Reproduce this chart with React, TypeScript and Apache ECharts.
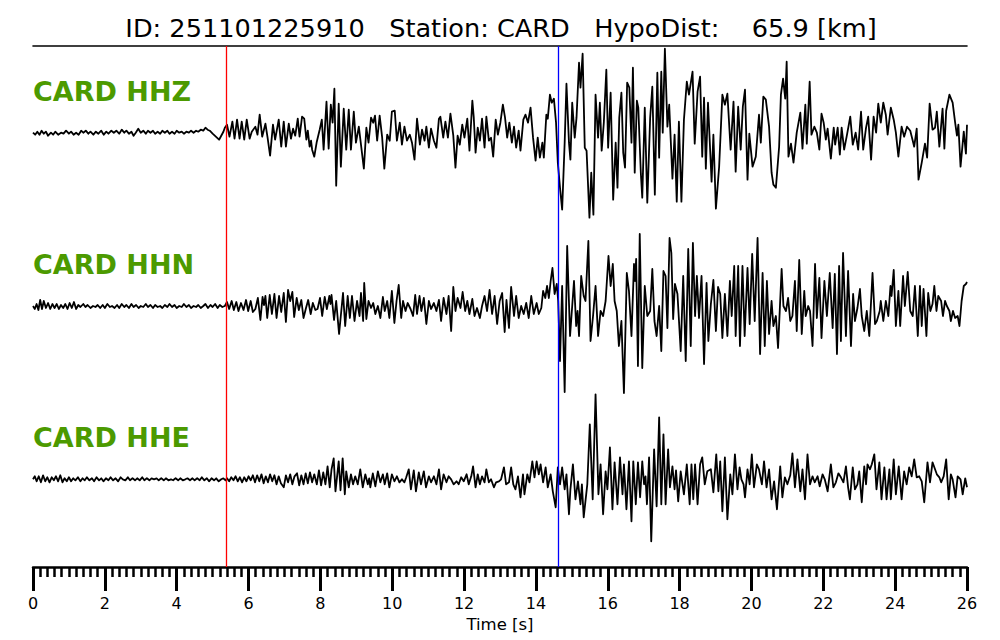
import React, { useEffect, useRef } from "react";
import * as echarts from "echarts";

// ---------- text ----------
const TITLE = "ID: 251101225910   Station: CARD   HypoDist:    65.9 [km]";
const CHANNELS = ["CARD HHZ", "CARD HHN", "CARD HHE"];
const X_NAME = "Time [s]";

// ---------- axis ----------
const X_MIN = 0;
const X_MAX = 26;
const X_INTERVAL = 2;

// ---------- phase picks (s) ----------
const P_PICK = 5.38;
const S_PICK = 14.63;

// ---------- waveforms: [time s, amplitude] (turning points) ----------
const HHZ: [number, number][] = [
  [0,0],[0.06,-2],[0.12,1],[0.18,-2],[0.24,2],[0.3,-1],[0.36,1],[0.42,-3],[0.5,0],[0.56,-2],[0.62,1],[0.7,-2],[0.78,0],[0.85,-1],[0.92,2],[1.0,-1],[1.06,1],[1.13,-2],[1.2,0],[1.27,-2],[1.34,2],[1.4,0],[1.47,2],[1.54,-1],[1.6,1],[1.68,-2],[1.75,1],[1.82,-1],[1.9,2],[1.97,-2],[2.04,1],[2.1,-1],[2.18,2],[2.25,0],[2.32,2],[2.4,-1],[2.47,3],[2.54,0],[2.6,2],[2.67,-1],[2.74,1],[2.8,-3],[2.86,0],[2.93,4],[3.0,0],[3.07,2],[3.14,-1],[3.2,2],[3.27,0],[3.34,2],[3.4,-1],[3.47,1],[3.54,-1],[3.6,2],[3.67,0],[3.74,2],[3.8,-1],[3.87,1],[3.94,-1],[4.0,2],[4.07,0],[4.14,1],[4.2,-1],[4.27,1],[4.34,0],[4.4,2],[4.47,0],[4.54,2],[4.6,1],[4.67,3],[4.74,2],[4.8,5],[4.86,3],[4.92,2],[5.0,-1],[5.06,-3],[5.12,-5],[5.18,-7],[5.24,-3],[5.3,1],[5.34,5],
  [5.40,8],[5.47,-4],[5.55,11],[5.61,-6],[5.68,13],[5.75,-6],[5.81,11],[5.88,-7],[5.95,13],[6.03,-6],[6.09,1],[6.19,6],[6.25,-2],[6.31,18],[6.38,-4],[6.47,9],[6.53,-5],[6.60,-23],[6.68,8],[6.74,-7],[6.84,13],[6.91,-14],[6.98,11],[7.04,-14],[7.12,9],[7.18,-6],[7.24,4],[7.30,-3],[7.37,14],[7.42,-4],[7.49,16],[7.55,14],[7.61,-7],[7.65,2],[7.70,-14],[7.74,-8],[7.77,-17],[7.83,-24],[7.90,-9],[7.98,3],[8.04,13],[8.09,-17],[8.17,31],[8.23,-16],[8.29,28],[8.34,10],[8.39,44],[8.44,-53],[8.51,29],[8.57,-34],
  [8.65,24],[8.72,-17],[8.79,23],[8.85,-17],[8.93,21],[8.99,-10],[9.07,6],[9.13,-12],[9.21,-36],[9.28,5],[9.34,-10],[9.41,15],[9.47,10],[9.52,17],[9.58,-8],[9.65,17],[9.72,-5],[9.78,-36],[9.86,-2],[9.93,-8],[9.99,21],[10.07,22],[10.13,-8],[10.21,10],[10.27,-12],[10.34,6],[10.41,-8],[10.49,-2],[10.55,-10],[10.62,-27],[10.69,14],[10.77,-12],[10.83,3],[10.90,-8],[10.95,6],[11.02,-15],[11.08,4],[11.16,-8],[11.23,-15],[11.30,14],[11.34,16],[11.42,-5],[11.48,11],[11.55,-5],[11.62,19],[11.70,-3],[11.76,-35],[11.82,-3],[11.88,-12],[11.95,8],[12.01,-5],[12.09,14],[12.15,-18],[12.23,32],[12.27,15],[12.32,-20],[12.38,5],[12.44,-8],[12.50,14],[12.57,-15],[12.62,16],[12.69,-8],[12.75,-5],[12.81,-24],[12.88,13],[12.94,-2],[13.01,10],[13.08,28],[13.14,15],[13.20,-5],[13.26,10],[13.33,-10],[13.39,6],[13.45,-15],[13.52,2],[13.57,-18],[13.65,13],[13.71,18],[13.78,10],[13.85,25],[13.92,-5],[13.99,-28],[14.05,-5],[14.11,-25],[14.18,-10],[14.22,-25],[14.29,18],[14.33,14],[14.39,38],[14.44,30],[14.50,34],[14.56,10],[14.61,-30],[14.67,-55],[14.73,-77],[14.80,-10],[14.85,49],[14.92,-10],[14.96,-27],[15.01,30],[15.08,-5],[15.13,15],[15.20,70],[15.24,45],[15.30,79],[15.36,-15],[15.41,-18],[15.49,-85],[15.54,-40],[15.60,-82],[15.66,38],[15.73,-5],[15.78,30],[15.83,-18],[15.89,10],[15.96,63],[16.01,-15],[16.08,40],[16.15,-67],[16.22,-10],[16.27,-55],[16.32,15],[16.38,40],[16.43,-20],[16.48,-35],[16.54,50],[16.60,45],[16.66,-10],[16.70,65],[16.75,-40],[16.81,32],[16.85,25],[16.92,-40],[16.96,-65],[17.03,25],[17.10,-70],[17.18,15],[17.24,46],[17.31,-62],[17.38,60],
  [17.43,-25],[17.49,61],[17.53,0],[17.59,84],[17.66,6],[17.71,28],[17.80,-46],[17.86,-2],[17.92,-69],[17.98,11],[18.05,-69],[18.12,13],[18.20,51],[18.26,38],[18.36,61],[18.42,-11],[18.50,41],[18.57,56],[18.63,-24],[18.68,35],[18.73,-36],[18.79,30],[18.89,-49],[18.94,-2],[19.01,-76],[19.10,-34],[19.19,38],[19.26,28],[19.33,39],[19.42,-17],[19.50,31],[19.56,-39],[19.63,26],[19.70,-17],[19.76,26],[19.82,43],[19.89,-47],[19.94,-1],[20.03,-34],[20.12,-24],[20.21,18],[20.26,-10],[20.33,36],[20.40,33],[20.49,6],[20.56,-40],[20.61,-52],[20.68,-55],[20.77,-14],[20.82,38],[20.88,54],[20.94,34],[20.98,71],[21.03,-24],[21.10,-11],[21.17,-30],[21.26,0],[21.36,20],[21.42,-16],[21.50,28],[21.54,-11],[21.62,51],[21.67,-2],[21.75,6],[21.82,0],[21.89,-17],[21.95,19],[22.01,10],[22.07,-7],[22.12,4],[22.21,-26],[22.29,5],[22.33,-12],[22.40,5],[22.46,-22],[22.51,5],[22.58,-17],[22.66,-2],[22.75,16],[22.82,-12],[22.90,0],[22.97,-17],[23.05,21],[23.11,-17],[23.19,5],[23.25,16],[23.33,-27],[23.40,16],[23.47,0],[23.53,29],[23.60,10],[23.67,30],[23.74,18],[23.79,-2],[23.88,25],[23.96,13],[24.02,0],[24.09,-24],[24.18,6],[24.25,-4],[24.33,6],[24.42,2],[24.49,-8],[24.53,-14],[24.60,4],[24.65,-47],[24.74,-30],[24.83,-11],[24.89,-25],[24.96,29],[25.04,3],[25.11,5],[25.16,21],[25.23,-14],[25.32,24],[25.37,-16],[25.42,22],[25.51,38],[25.60,30],[25.67,10],[25.72,-3],[25.76,8],[25.82,-34],[25.91,1],[25.97,-21],[26.0,8]
];

const HHN: [number, number][] = [
  [0,0],[0.05,-3],[0.1,2],[0.15,-4],[0.2,6],[0.25,-3],[0.3,5],[0.36,-2],[0.42,3],[0.48,-3],[0.54,2],[0.6,-2],[0.66,2],[0.72,-3],[0.78,1],[0.84,-2],[0.9,2],[0.96,-3],[1.02,3],[1.08,-2],[1.14,4],[1.2,-3],[1.26,1],[1.32,-1],[1.4,2],[1.46,-1],[1.52,1],[1.6,-2],[1.67,0],[1.74,-1],[1.8,1],[1.87,-2],[1.94,1],[2.0,-2],[2.07,2],[2.14,-1],[2.2,0],[2.27,-2],[2.34,1],[2.4,-2],[2.47,2],[2.54,-1],[2.6,1],[2.67,-2],[2.74,2],[2.8,-1],[2.87,1],[2.94,-2],[3.0,0],[3.07,-1],[3.14,2],[3.2,-1],[3.27,1],[3.34,-2],[3.4,1],[3.47,-1],[3.54,0],[3.6,-2],[3.67,1],[3.74,-1],[3.8,2],[3.87,-1],[3.94,1],[4.0,-2],[4.07,0],[4.14,-1],[4.2,2],[4.27,-1],[4.34,1],[4.4,-2],[4.47,0],[4.54,-1],[4.6,1],[4.67,-2],[4.74,0],[4.8,2],[4.87,-2],[4.94,1],[5.0,-1],[5.07,2],[5.14,-2],[5.2,1],[5.27,-1],[5.34,0],
  [5.40,4],[5.46,-3],[5.53,5],[5.59,-4],[5.66,4],[5.72,-5],[5.79,3],[5.86,-4],[5.93,6],[5.99,-5],[6.06,5],[6.12,-6],[6.19,-3],[6.26,8],[6.33,-14],[6.39,9],[6.43,1],[6.47,10],[6.52,-12],[6.59,11],[6.65,-8],[6.72,12],[6.78,-12],[6.85,10],[6.91,-6],[6.98,13],[7.04,-16],[7.10,16],[7.16,5],[7.22,14],[7.27,-11],[7.34,8],[7.40,-4],[7.47,6],[7.53,-12],[7.60,-2],[7.66,6],[7.73,-8],[7.79,3],[7.86,-4],[7.92,-3],[7.99,8],[8.05,-10],[8.12,9],[8.18,-3],[8.25,10],[8.28,2],[8.31,11],[8.38,-14],[8.44,5],[8.52,-28],
  [8.63,13],[8.69,-20],[8.76,10],[8.82,-12],[8.88,10],[8.95,-15],[9.02,5],[9.09,-10],[9.13,13],[9.19,-15],[9.22,23],[9.28,-13],[9.34,5],[9.41,-2],[9.47,3],[9.53,-8],[9.60,0],[9.67,-12],[9.74,9],[9.79,-5],[9.86,5],[9.92,-12],[9.99,15],[10.06,-17],[10.12,5],[10.18,21],[10.25,-12],[10.30,5],[10.37,-5],[10.43,3],[10.51,-3],[10.58,-10],[10.64,11],[10.69,-8],[10.76,10],[10.81,-5],[10.88,8],[10.95,-18],[11.02,5],[11.08,-3],[11.16,3],[11.23,-5],[11.30,6],[11.36,-15],[11.43,8],[11.51,-8],[11.57,10],[11.64,-25],[11.70,19],[11.76,-5],[11.82,8],[11.90,-2],[11.96,14],[12.03,-5],[12.09,5],[12.15,-8],[12.23,7],[12.29,-10],[12.36,-2],[12.44,-12],[12.50,0],[12.57,10],[12.64,-5],[12.71,16],[12.78,-8],[12.85,10],[12.92,-18],[12.99,5],[13.06,13],[13.13,-26],[13.18,6],[13.25,-22],[13.31,19],[13.39,-10],[13.45,10],[13.52,-12],[13.59,0],[13.66,-8],[13.73,3],[13.80,-12],[13.87,10],[13.94,-8],[14.02,3],[14.08,-8],[14.15,-2],[14.20,15],[14.26,8],[14.31,20],[14.36,8],[14.41,25],[14.46,38],[14.52,12],[14.58,22],[14.62,5],[14.67,-55],[14.73,20],[14.80,-86],[14.87,60],[14.95,-30],[15.06,25],[15.12,-20],[15.16,-5],[15.20,-30],[15.26,30],[15.33,10],[15.38,5],[15.46,65],[15.52,-35],[15.59,-10],[15.66,20],[15.73,-30],[15.80,-5],[15.87,-10],[15.94,5],[16.02,50],[16.08,20],[16.14,42],[16.19,5],[16.25,-5],[16.31,-40],[16.38,-15],[16.45,-87],[16.53,33],[16.59,15],[16.66,-30],[16.73,42],[16.76,25],[16.79,47],[16.84,-60],[16.89,72],[16.96,-62],[17.03,20],[17.10,-10],[17.18,-5],
  [17.24,37],[17.30,-15],[17.36,-30],[17.43,0],[17.49,-45],[17.55,35],[17.61,30],[17.66,-22],[17.72,68],[17.77,53],[17.82,-13],[17.87,22],[17.94,12],[18.03,-45],[18.10,30],[18.17,-55],[18.24,57],[18.31,-40],[18.37,63],[18.43,-10],[18.48,30],[18.54,-12],[18.61,30],[18.68,-58],[18.75,23],[18.80,-35],[18.87,2],[18.94,26],[19.01,-25],[19.07,19],[19.13,12],[19.19,-32],[19.26,12],[19.33,-30],[19.40,25],[19.45,-10],[19.52,40],[19.56,-30],[19.63,40],[19.68,-40],[19.75,40],[19.81,-30],[19.89,38],[19.95,-18],[20.02,52],[20.09,-15],[20.17,68],[20.24,-48],[20.31,33],[20.37,-40],[20.43,25],[20.49,-28],[20.56,5],[20.61,-20],[20.68,-10],[20.74,-42],[20.84,37],[20.89,0],[20.96,-5],[21.02,8],[21.08,-15],[21.14,-10],[21.21,25],[21.26,-25],[21.33,46],[21.40,-28],[21.47,15],[21.51,-10],[21.58,0],[21.63,-5],[21.70,-40],[21.77,42],[21.82,-12],[21.89,28],[21.95,-32],[22.03,25],[22.10,-10],[22.18,33],[22.26,-22],[22.32,32],[22.38,-48],[22.44,40],[22.49,-35],[22.55,53],[22.63,-30],[22.69,35],[22.77,-40],[22.83,12],[22.88,-15],[22.95,-2],[23.02,17],[23.07,-10],[23.14,-25],[23.21,-5],[23.28,-30],[23.37,33],[23.44,-18],[23.49,-15],[23.57,-5],[23.60,5],[23.67,-15],[23.74,5],[23.81,-10],[23.87,20],[23.90,10],[23.96,36],[24.02,-20],[24.09,15],[24.14,-20],[24.22,30],[24.27,0],[24.35,34],[24.42,-5],[24.49,-10],[24.55,20],[24.63,-30],[24.69,20],[24.74,-20],[24.79,17],[24.87,-30],[24.92,13],[24.98,-5],[25.04,2],[25.09,20],[25.15,-5],[25.20,10],[25.28,5],[25.33,-10],[25.39,5],[25.44,0],[25.51,-5],[25.55,-15],[25.61,-5],[25.67,-12],[25.74,-10],[25.79,-20],[25.85,5],[25.91,20],[25.97,22],[26.0,24]
];

const HHE: [number, number][] = [
  [0,0],[0.05,3],[0.1,-2],[0.16,3],[0.22,-3],[0.28,4],[0.34,-2],[0.4,2],[0.46,-3],[0.52,2],[0.58,-1],[0.64,3],[0.7,-2],[0.76,4],[0.82,-3],[0.88,1],[0.94,-2],[1.0,2],[1.06,-2],[1.12,1],[1.18,-1],[1.25,2],[1.32,-2],[1.38,1],[1.44,-1],[1.5,2],[1.57,-1],[1.64,1],[1.7,-2],[1.77,2],[1.84,-1],[1.9,1],[1.96,-2],[2.03,1],[2.1,-1],[2.16,2],[2.23,-1],[2.3,1],[2.37,-2],[2.44,2],[2.5,0],[2.57,-1],[2.64,2],[2.7,-1],[2.77,1],[2.84,-1],[2.9,1],[2.97,-1],[3.04,2],[3.1,-1],[3.17,1],[3.24,-1],[3.3,1],[3.37,0],[3.44,1],[3.5,-1],[3.57,1],[3.64,-1],[3.7,1],[3.77,-1],[3.84,0],[3.9,-1],[3.97,1],[4.04,-1],[4.1,1],[4.17,-1],[4.24,0],[4.3,1],[4.37,-1],[4.44,1],[4.5,-1],[4.57,1],[4.64,-1],[4.7,2],[4.77,-1],[4.84,1],[4.9,-2],[4.97,1],[5.04,-1],[5.1,1],[5.17,-2],[5.24,0],[5.3,1],[5.36,-1],
  [5.4,1],[5.46,-2],[5.52,2],[5.58,-1],[5.64,3],[5.7,-2],[5.76,2],[5.82,-3],[5.88,2],[5.94,-2],[6.0,3],[6.06,-1],[6.12,4],[6.18,-3],[6.24,4],[6.3,-2],[6.36,5],[6.42,-4],[6.48,3],[6.54,-3],[6.6,5],[6.66,-2],[6.72,4],[6.78,-5],[6.84,3],[6.9,-4],[6.98,-8],[7.04,4],[7.1,-3],[7.16,5],[7.22,-5],[7.28,3],[7.35,6],[7.41,-6],[7.47,4],[7.53,-5],[7.59,6],[7.65,-4],[7.71,7],[7.77,-3],[7.83,5],[7.9,-5],[7.96,9],[8.02,-6],[8.08,7],[8.14,-5],[8.2,13],[8.26,-8],[8.31,10],[8.37,21],[8.42,-12],[8.51,18],[8.56,-11],[8.62,21],[8.68,-15],
  [8.72,8],[8.79,-8],[8.85,5],[8.91,-5],[8.97,3],[9.04,-5],[9.11,10],[9.18,-8],[9.25,5],[9.32,-5],[9.36,1],[9.39,-8],[9.46,6],[9.53,-7],[9.60,8],[9.67,-3],[9.74,5],[9.79,-5],[9.86,6],[9.92,-8],[9.99,5],[10.06,-2],[10.13,3],[10.20,-3],[10.27,0],[10.34,-3],[10.39,2],[10.46,10],[10.52,-10],[10.60,9],[10.66,-12],[10.74,7],[10.80,-5],[10.88,8],[10.94,-8],[11.02,3],[11.08,-3],[11.16,3],[11.23,-5],[11.30,10],[11.36,-10],[11.43,5],[11.51,-3],[11.57,3],[11.64,0],[11.71,-5],[11.79,-2],[11.85,-5],[11.92,2],[11.99,-2],[12.07,5],[12.13,-5],[12.20,3],[12.25,13],[12.32,-8],[12.38,5],[12.44,-5],[12.50,3],[12.57,-3],[12.62,10],[12.69,-3],[12.75,0],[12.83,-8],[12.89,-3],[12.97,-2],[13.03,0],[13.11,12],[13.17,-5],[13.25,-3],[13.31,12],[13.37,-5],[13.43,-10],[13.50,3],[13.57,-18],[13.64,5],[13.68,-15],[13.76,5],[13.82,-3],[13.90,18],[13.96,2],[14.02,18],[14.08,5],[14.13,15],[14.20,-3],[14.27,12],[14.33,-8],[14.41,5],[14.47,-12],[14.55,-28],[14.61,12],[14.67,-5],[14.73,12],[14.80,-10],[14.85,5],[14.92,-35],[14.96,-10],[15.03,15],[15.10,-20],[15.17,-2],[15.24,-25],[15.28,-5],[15.33,-38],[15.43,-5],[15.50,55],[15.58,-20],[15.66,85],[15.74,-15],[15.80,15],[15.87,-35],[15.94,8],[15.99,-10],[16.06,32],[16.13,-30],[16.19,17],[16.27,-25],[16.34,22],[16.41,-15],[16.45,15],[16.52,-30],[16.59,18],[16.66,-42],[16.71,18],[16.78,-25],[16.84,17],[16.90,-18],[16.96,18],[17.01,-5],[17.05,3],[17.09,-25],[17.15,22],[17.21,-62],[17.29,30],[17.36,-27],[17.43,62],
  [17.49,-25],[17.55,45],[17.61,-25],[17.68,30],[17.73,-8],[17.80,13],[17.86,-10],[17.90,9],[17.96,-22],[18.03,8],[18.12,-15],[18.20,15],[18.28,-25],[18.33,15],[18.38,-20],[18.43,15],[18.50,-25],[18.57,15],[18.63,22],[18.70,-5],[18.77,8],[18.87,10],[18.94,-13],[19.02,25],[19.08,-12],[19.13,18],[19.19,-32],[19.26,22],[19.33,-40],[19.41,5],[19.47,-15],[19.54,25],[19.61,-10],[19.67,12],[19.72,0],[19.78,-5],[19.82,-18],[19.89,10],[19.95,-5],[20.01,25],[20.07,-8],[20.15,15],[20.21,10],[20.29,-5],[20.35,18],[20.42,-8],[20.49,10],[20.56,-20],[20.63,-2],[20.71,-30],[20.80,13],[20.86,-18],[20.93,2],[21.00,-5],[21.08,4],[21.14,26],[21.21,-8],[21.28,20],[21.36,-12],[21.42,10],[21.49,-20],[21.56,25],[21.63,-5],[21.70,3],[21.76,-3],[21.84,3],[21.90,-7],[21.98,5],[22.04,0],[22.12,-12],[22.21,15],[22.28,-8],[22.35,-3],[22.42,6],[22.49,2],[22.56,-3],[22.63,13],[22.69,-8],[22.74,-20],[22.82,12],[22.88,-10],[22.95,-5],[23.00,8],[23.07,-23],[23.14,13],[23.19,-5],[23.23,15],[23.30,10],[23.35,15],[23.42,25],[23.48,-10],[23.56,17],[23.62,-20],[23.70,12],[23.76,-20],[23.84,10],[23.88,-20],[23.96,20],[24.02,-15],[24.10,13],[24.18,-20],[24.25,8],[24.32,-5],[24.39,12],[24.46,3],[24.53,20],[24.60,2],[24.67,3],[24.74,-2],[24.81,-23],[24.90,17],[24.97,-3],[25.04,17],[25.11,10],[25.16,5],[25.23,2],[25.28,-3],[25.35,3],[25.42,20],[25.49,-20],[25.55,5],[25.60,0],[25.68,-18],[25.74,3],[25.82,0],[25.88,-15],[25.95,1],[26.0,-8]
];

const TRACES = [HHZ, HHN, HHE];

// ---------- layout (px) ----------
const PLOT_LEFT = 33;
const PLOT_RIGHT = 33;
const PLOT_TOP = 46;
const PLOT_BOTTOM_Y = 567;
const TRACE_CENTERS = [132.7, 306, 479.3];
const TRACE_HALF = 90;
const LABEL_CENTERS = [91, 264.5, 437.5];
const FONT = "'DejaVu Sans', Verdana, sans-serif";

export default function App() {
  const ref = useRef<HTMLDivElement>(null);

  useEffect(() => {
    if (!ref.current) return;
    const chart = echarts.init(ref.current, undefined, { renderer: "svg" });

    const grids: any[] = TRACE_CENTERS.map((c) => ({
      left: PLOT_LEFT,
      right: PLOT_RIGHT,
      top: c - TRACE_HALF,
      height: TRACE_HALF * 2,
    }));
    grids.push({
      left: PLOT_LEFT,
      right: PLOT_RIGHT,
      top: PLOT_TOP,
      height: PLOT_BOTTOM_Y - PLOT_TOP,
    });

    const xAxes: any[] = TRACE_CENTERS.map((_, i) => ({
      gridIndex: i,
      type: "value",
      min: X_MIN,
      max: X_MAX,
      show: false,
    }));
    xAxes.push({
      gridIndex: 3,
      type: "value",
      min: X_MIN,
      max: X_MAX,
      interval: X_INTERVAL,
      position: "bottom",
      axisLine: { show: true, onZero: false, lineStyle: { color: "#000", width: 2.5 } },
      axisTick: { show: true, length: 24, lineStyle: { color: "#000", width: 3 } },
      minorTick: { show: true, splitNumber: 10, length: 10, lineStyle: { color: "#000", width: 2.5 } },
      axisLabel: {
        color: "#000",
        fontSize: 16,
        fontFamily: FONT,
        margin: 28,
        showMinLabel: true,
        showMaxLabel: true,
      },
      splitLine: { show: false },
      minorSplitLine: { show: false },
      name: X_NAME,
      nameLocation: "middle",
      nameGap: 41,
      nameTextStyle: { color: "#000", fontSize: 16.5, fontFamily: FONT },
    });
    xAxes.push({
      gridIndex: 3,
      type: "value",
      min: X_MIN,
      max: X_MAX,
      position: "top",
      axisLine: { show: true, onZero: false, lineStyle: { color: "#000", width: 1.6 } },
      axisTick: { show: false },
      axisLabel: { show: false },
      splitLine: { show: false },
    });

    const yAxes: any[] = TRACE_CENTERS.map((_, i) => ({
      gridIndex: i,
      type: "value",
      min: -TRACE_HALF,
      max: TRACE_HALF,
      show: false,
    }));
    yAxes.push({ gridIndex: 3, type: "value", min: 0, max: 1, show: false });

    const series: any[] = TRACES.map((d, i) => ({
      type: "line",
      xAxisIndex: i,
      yAxisIndex: i,
      data: d,
      showSymbol: false,
      symbol: "none",
      clip: false,
      silent: true,
      z: 3,
      lineStyle: { color: "#000", width: 1.8, join: "round" },
    }));
    series.push({
      type: "line",
      xAxisIndex: 3,
      yAxisIndex: 3,
      data: [],
      silent: true,
      z: 2,
      markLine: {
        silent: true,
        symbol: ["none", "none"],
        label: { show: false },
        data: [
          { xAxis: P_PICK, lineStyle: { color: "#ff0000", width: 1.3, type: "solid" } },
          { xAxis: S_PICK, lineStyle: { color: "#0000ff", width: 1.3, type: "solid" } },
        ],
      },
    });

    const graphic: any[] = [
      {
        type: "text",
        x: 501,
        y: 28,
        style: {
          text: TITLE,
          fill: "#000",
          fontSize: 25.6,
          fontFamily: FONT,
          align: "center",
          verticalAlign: "middle",
        },
      },
      ...CHANNELS.map((name, i) => ({
        type: "text",
        x: PLOT_LEFT,
        y: LABEL_CENTERS[i],
        style: {
          text: name,
          fill: "#4c9a00",
          fontSize: 27,
          fontWeight: "bold",
          fontFamily: FONT,
          align: "left",
          verticalAlign: "middle",
        },
      })),
    ];

    chart.setOption({
      animation: false,
      backgroundColor: "#fff",
      grid: grids,
      xAxis: xAxes,
      yAxis: yAxes,
      series,
      graphic,
    });

    return () => chart.dispose();
  }, []);

  return (
    <div
      ref={ref}
      style={{ position: "fixed", left: 0, top: 0, width: 1000, height: 640 }}
    />
  );
}
